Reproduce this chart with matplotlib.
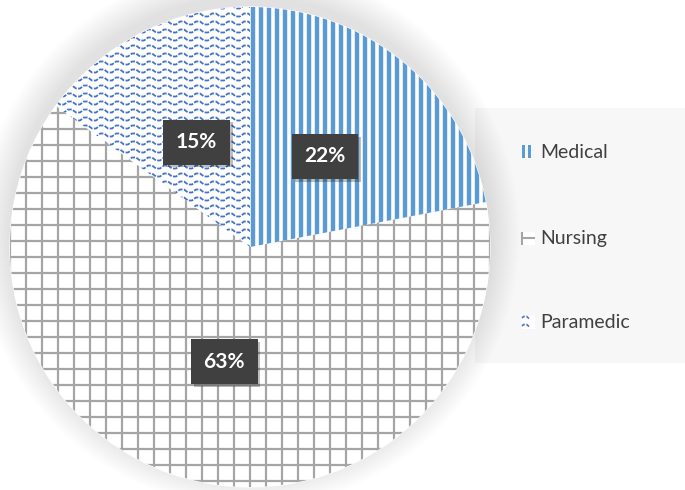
import numpy as np
import matplotlib
matplotlib.use("Agg")
import matplotlib.pyplot as plt
from matplotlib.collections import LineCollection
from matplotlib.patches import Circle, Rectangle
import matplotlib.patheffects as pe

plt.rcParams['font.family'] = ['Lato', 'DejaVu Sans']

# staff groups and their share
categories = ["Medical", "Nursing", "Paramedic"]
shares = [22, 63, 15]

W, H = 685, 490
CX, CY, R = 250, 247, 240          # pie centre / radius in pixels


def px(x, y):
    """pixel (from top-left) -> data units (pie radius == 1)"""
    return (x - CX) / R, (CY - y) / R


fig = plt.figure(figsize=(W / 100, H / 100), dpi=100)
ax = fig.add_axes([0, 0, 1, 1])

# legend panel behind the pie
lx0, ly0 = px(475, 363)
lx1, ly1 = px(685, 108)
ax.add_patch(Rectangle((lx0, ly0), lx1 - lx0, ly1 - ly0, facecolor='#f7f7f7',
                       edgecolor='none', zorder=0))

# soft glow around the pie (stronger towards the top)
for r in np.linspace(1.13, 1.0, 30):
    ax.add_patch(Circle((-0.005, 0.045), r, facecolor='#000000', alpha=0.005,
                        edgecolor='none', zorder=1))

wedges, texts, autotexts = ax.pie(
    shares, startangle=90, counterclock=False, radius=1,
    colors=['white'] * 3,
    wedgeprops=dict(edgecolor='white', linewidth=0.8, zorder=2),
    autopct='%d%%', pctdistance=0.49,
    textprops=dict(color='white', fontsize=15, fontweight='bold'))

u = 1 / R   # one pixel in data units

# Medical: vertical stripes
xs = np.arange(-0.02, 1.1, 8 * u)
segs = [[(x, -1.1), (x, 1.1)] for x in xs]
lc = LineCollection(segs, colors='#5b9bd5', linewidths=4.4 * 0.72, zorder=3)
lc.set_clip_path(wedges[0])
ax.add_collection(lc)

# Nursing: grey grid
gx = np.arange(-1.2, 1.2, 16 * u)
gy = np.arange(-1.2, 1.2, 16 * u) + 6 * u
segs = [[(x, -1.1), (x, 1.1)] for x in gx] + [[(-1.1, y), (1.1, y)] for y in gy]
lc = LineCollection(segs, colors='#a5a5a5', linewidths=2.2 * 0.72, zorder=3)
lc.set_clip_path(wedges[1])
ax.add_collection(lc)

# Paramedic: small waves
tx = np.array([0, 2, 6, 8, 10, 14, 16]) * u
ty = np.array([0, 1.5, 1.5, 0, -1.5, -1.5, 0]) * u
period = 16 * u
segs = []
for y0 in np.arange(-1.1, 1.1, 8 * u):
    xx, yy = [], []
    for k0 in np.arange(-1.1, 0.1, period):
        xx.extend(tx + k0)
        yy.extend(ty + y0)
    segs.append(np.column_stack([xx, yy]))
lc = LineCollection(segs, colors='#4472c4', linewidths=1.8 * 0.72,
                    linestyles=[(0, (2.5, 0.8))], zorder=3)
lc.set_clip_path(wedges[2])
ax.add_collection(lc)

# percentage labels in dark boxes with a small drop shadow
for t in autotexts:
    t.set_zorder(6)
    t.set_ha('center')
    t.set_va('center')
    t.set_bbox(dict(boxstyle='square,pad=0.6', facecolor='#404040',
                    edgecolor='none'))
    t.get_bbox_patch().set_path_effects(
        [pe.withSimplePatchShadow(offset=(2, -2), shadow_rgbFace='#000000',
                                  alpha=0.25)])

# legend entries
rows_y = [152, 238, 322]
for name, yy in zip(categories, rows_y):
    tx_, ty_ = px(540, yy)
    ax.text(tx_, ty_, name, fontsize=14, color='#404040',
            ha='left', va='center', zorder=6)

# Medical key: two blue bars
for bx in (522, 528):
    x0, y0 = px(bx, 158)
    ax.add_patch(Rectangle((x0, y0), 3 * u, 13 * u, facecolor='#5b9bd5',
                           edgecolor='none', zorder=6))
# Nursing key
x0, y0 = px(522, 245)
ax.add_patch(Rectangle((x0, y0), 13 * u, 13 * u, facecolor='white',
                       edgecolor='none', zorder=5))
ax.plot([px(522, 0)[0]] * 2, [px(0, 232)[1], px(0, 245)[1]],
        color='#a5a5a5', lw=1.5, zorder=6, solid_capstyle='butt')
ax.plot([px(522, 0)[0], px(535, 0)[0]], [px(0, 238.5)[1]] * 2,
        color='#a5a5a5', lw=1.5, zorder=6, solid_capstyle='butt')
# Paramedic key
x0, y0 = px(522, 329)
ax.add_patch(Rectangle((x0, y0), 13 * u, 13 * u, facecolor='white',
                       edgecolor='none', zorder=5))
for yo in (318, 326):
    xk = px(522, 0)[0] + tx[:5] * 0.8
    ax.plot(xk, px(0, yo)[1] + ty[:5], color='#4472c4', lw=1.2,
            ls=(0, (2, 1)), zorder=6)

ax.set_xlim(-CX / R, (W - CX) / R)
ax.set_ylim(-(H - CY) / R, CY / R)
ax.set_aspect('auto')
ax.axis('off')

fig.savefig('out.png', dpi=100, facecolor='white')
